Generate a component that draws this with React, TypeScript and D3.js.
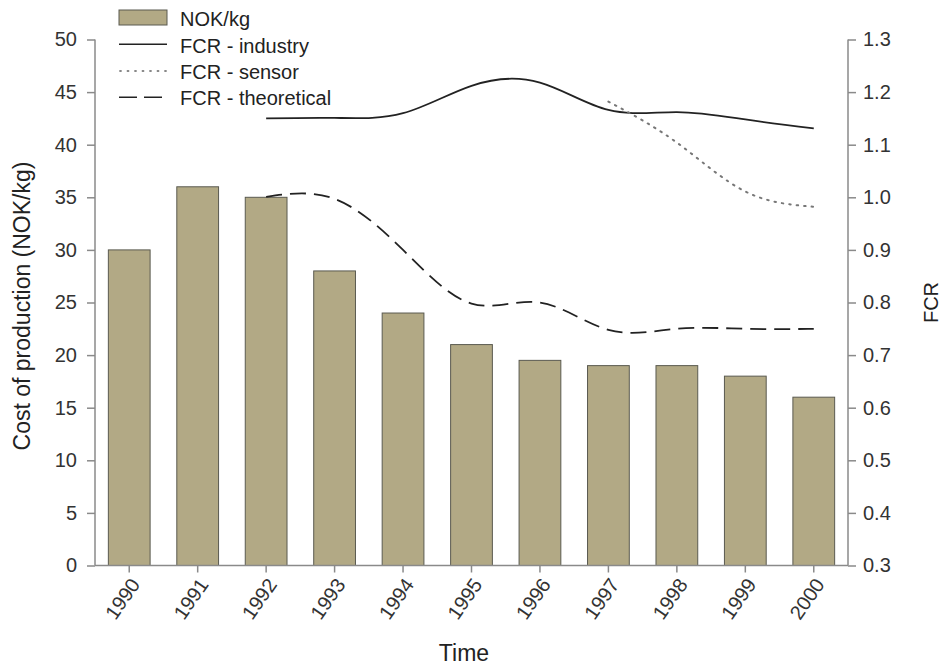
import React, { useEffect, useRef } from "react";
import * as d3 from "d3";

const years = ["1990","1991","1992","1993","1994","1995","1996","1997","1998","1999","2000"];
const cost = [30, 36, 35, 28, 24, 21, 19.5, 19, 19, 18, 16];
const industryYears = ["1992","1993","1994","1995","1996","1997","1998","1999","2000"];
const industry = [1.15, 1.151, 1.16, 1.212, 1.218, 1.166, 1.162, 1.148, 1.131];
const sensorYears = ["1997","1998","1999","2000"];
const sensor = [1.182, 1.104, 1.011, 0.982];
const theoYears = ["1992","1993","1994","1995","1996","1997","1998","1999","2000"];
const theoretical = [1.001, 0.997, 0.9, 0.798, 0.8, 0.748, 0.75, 0.75, 0.75];
const leftTicks = [0, 5, 10, 15, 20, 25, 30, 35, 40, 45, 50];
const rightTicks = [0.3, 0.4, 0.5, 0.6, 0.7, 0.8, 0.9, 1.0, 1.1, 1.2, 1.3];
const legendLabels = ["NOK/kg", "FCR - industry", "FCR - sensor", "FCR - theoretical"];

const W = 944, H = 665;
const M = { left: 95, right: 848, top: 39.5, bottom: 565.5 };
const FONT = "'Liberation Sans', Arial, sans-serif";

export default function App() {
  const ref = useRef<SVGSVGElement>(null);
  useEffect(() => {
    const svg = d3.select(ref.current);
    svg.selectAll("*").remove();
    const x = d3.scaleBand<string>().domain(years).range([M.left, M.right]).paddingInner(0.39).paddingOuter(0.195);
    const yL = d3.scaleLinear().domain([0, 50]).range([M.bottom, M.top]);
    const yR = d3.scaleLinear().domain([0.3, 1.3]).range([M.bottom, M.top]);
    const cx = (yr: string) => (x(yr) as number) + x.bandwidth() / 2;
    const axisColor = "#8a8a8a";
    const textColor = "#333";

    // bars
    svg.append("g").selectAll("rect").data(years).join("rect")
      .attr("x", d => x(d) as number)
      .attr("y", (d, i) => yL(cost[i]))
      .attr("width", x.bandwidth())
      .attr("height", (d, i) => yL(0) - yL(cost[i]))
      .attr("fill", "#b2a985")
      .attr("stroke", "#5a5a50")
      .attr("stroke-width", 1);

    // axes
    const gL = svg.append("g").attr("transform", `translate(${M.left},0)`)
      .call(d3.axisLeft(yL).tickValues(leftTicks).tickSize(8).tickPadding(10).tickFormat(d3.format("d")));
    const gR = svg.append("g").attr("transform", `translate(${M.right},0)`)
      .call(d3.axisRight(yR).tickValues(rightTicks).tickSize(8).tickPadding(7).tickFormat(d3.format(".1f")));
    const gB = svg.append("g").attr("transform", `translate(0,${M.bottom})`)
      .call(d3.axisBottom(x).tickSize(7).tickSizeOuter(0));
    [gL, gR, gB].forEach(g => {
      g.select(".domain").attr("stroke", axisColor).attr("stroke-width", 1.5);
      g.selectAll(".tick line").attr("stroke", axisColor).attr("stroke-width", 1.5);
      g.selectAll("text").attr("fill", textColor).style("font-family", FONT).style("font-size", "20px");
    });
    gL.select(".domain").attr("d", `M0,${M.top}V${M.bottom}`);
    gR.select(".domain").attr("d", `M0,${M.top}V${M.bottom}`);
    gB.select(".domain").attr("d", `M${M.left},0H${M.right}`);
    gB.selectAll("text")
      .attr("text-anchor", "end")
      .attr("dy", "0.35em")
      .attr("transform", "translate(6,15) rotate(-55)")
      .attr("y", 0).attr("x", 0);

    // lines
    const lineGen = (yrs: string[], vals: number[]) =>
      d3.line<number>().x((d, i) => cx(yrs[i])).y(d => yR(d)).curve(d3.curveNatural)(vals);
    svg.append("path").attr("d", lineGen(industryYears, industry)).attr("fill", "none")
      .attr("stroke", "#222").attr("stroke-width", 1.8);
    svg.append("path").attr("d", lineGen(sensorYears, sensor)).attr("fill", "none")
      .attr("stroke", "#777").attr("stroke-width", 2).attr("stroke-dasharray", "1.5,6").attr("stroke-linecap", "round");
    svg.append("path").attr("d", lineGen(theoYears, theoretical)).attr("fill", "none")
      .attr("stroke", "#222").attr("stroke-width", 1.8).attr("stroke-dasharray", "16,8");

    // axis titles
    svg.append("text").attr("transform", `translate(30,306) rotate(-90)`)
      .attr("text-anchor", "middle").attr("fill", "#222").style("font-family", FONT).style("font-size", "23px")
      .text("Cost of production (NOK/kg)");
    svg.append("text").attr("transform", `translate(938,${yR(0.8)}) rotate(-90)`)
      .attr("text-anchor", "middle").attr("fill", "#222").style("font-family", FONT).style("font-size", "20px")
      .text("FCR");
    svg.append("text").attr("x", 464).attr("y", 661)
      .attr("text-anchor", "middle").attr("fill", "#222").style("font-family", FONT).style("font-size", "23px")
      .text("Time");

    // legend
    const lg = svg.append("g");
    const lx0 = 119, lx1 = 167, tx = 180;
    const lineY = [17.5, 44.3, 71, 97.3];
    const textY = [26, 52.5, 78.5, 104.5];
    lg.append("rect").attr("x", lx0).attr("y", 10).attr("width", lx1 - lx0).attr("height", 15)
      .attr("fill", "#b2a985").attr("stroke", "#5a5a50");
    lg.append("line").attr("x1", lx0).attr("x2", lx1).attr("y1", lineY[1]).attr("y2", lineY[1])
      .attr("stroke", "#222").attr("stroke-width", 1.5);
    lg.append("line").attr("x1", lx0 + 1).attr("x2", lx1).attr("y1", lineY[2]).attr("y2", lineY[2])
      .attr("stroke", "#888").attr("stroke-width", 1.8).attr("stroke-dasharray", "1,6.5").attr("stroke-linecap", "round");
    lg.append("line").attr("x1", lx0).attr("x2", lx1).attr("y1", lineY[3]).attr("y2", lineY[3])
      .attr("stroke", "#222").attr("stroke-width", 1.5).attr("stroke-dasharray", "18,7");
    lg.selectAll("text.l").data(legendLabels).join("text")
      .attr("x", tx).attr("y", (d, i) => textY[i])
      .attr("fill", "#222").style("font-family", FONT).style("font-size", "20px")
      .text(d => d);
  }, []);
  return (
    <div style={{ position: "absolute", left: 0, top: 0 }}>
      <svg ref={ref} width={W} height={H} style={{ display: "block", background: "#fff" }} />
    </div>
  );
}
